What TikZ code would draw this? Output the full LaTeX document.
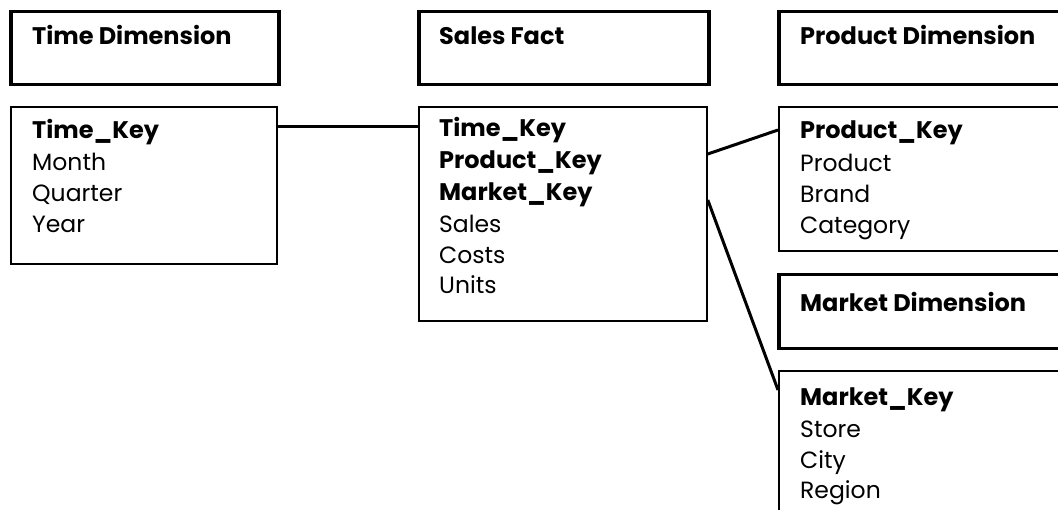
\documentclass[tikz,border=0pt]{standalone}
\usepackage{fontspec}
\setmainfont{Poppins}
\begin{document}
\begin{tikzpicture}[x=1pt,y=-1pt,
  hdr/.style={draw,line width=3.5pt,rectangle,anchor=north west,inner sep=0pt},
  attr/.style={draw,line width=1.8pt,rectangle,anchor=north west,inner sep=0pt},
  ttl/.style={anchor=base west,inner sep=0pt,font=\fontsize{24}{28}\selectfont\bfseries},
  key/.style={anchor=base west,inner sep=0pt,font=\fontsize{24}{28}\selectfont\bfseries},
  fld/.style={anchor=base west,inner sep=0pt,font=\fontsize{23.5}{28}\selectfont},
  link/.style={line width=3pt}]
\useasboundingbox (0,0) rectangle (1058,510);
\clip (0,0) rectangle (1058,510);

% Time dimension
\node[hdr,minimum width=268pt,minimum height=73pt] (timeH) at (9,10) {};
\node[ttl] (timeT) at (32,45) {Time Dimension};
\node[attr,minimum width=266pt,minimum height=157pt] (timeA) at (10,106) {};
\node[key] (t1) at (32,139) {Time\_Key};
\node[fld] (t2) at (32,171) {Month};
\node[fld] (t3) at (32,202) {Quarter};
\node[fld] (t4) at (32,233) {Year};

% Sales fact
\node[hdr,minimum width=290pt,minimum height=73pt] (salesH) at (417,10) {};
\node[ttl] (salesT) at (439,45) {Sales Fact};
\node[attr,minimum width=288pt,minimum height=214pt] (salesA) at (418,106) {};
\node[key] (s1) at (439,137) {Time\_Key};
\node[key] (s2) at (439,169) {Product\_Key};
\node[key] (s3) at (439,201) {Market\_Key};
\node[fld] (s4) at (439,233) {Sales};
\node[fld] (s5) at (439,264) {Costs};
\node[fld] (s6) at (439,294) {Units};

% Product dimension
\node[hdr,minimum width=300pt,minimum height=73pt] (prodH) at (777,10) {};
\node[ttl] (prodT) at (800,45) {Product Dimension};
\node[attr,minimum width=300pt,minimum height=144pt] (prodA) at (778,106) {};
\node[key] (p1) at (800,139) {Product\_Key};
\node[fld] (p2) at (800,172) {Product};
\node[fld] (p3) at (800,203) {Brand};
\node[fld] (p4) at (800,234) {Category};

% Market dimension
\node[hdr,minimum width=300pt,minimum height=74pt] (markH) at (777,273) {};
\node[ttl] (markT) at (800,312) {Market Dimension};
\node[attr,minimum width=300pt,minimum height=160pt] (markA) at (778,370) {};
\node[key] (m1) at (800,406) {Market\_Key};
\node[fld] (m2) at (800,438) {Store};
\node[fld] (m3) at (800,469) {City};
\node[fld] (m4) at (800,498) {Region};

% Key links
\draw[link] ([yshift=-21pt]timeA.north east) -- ([yshift=-21pt]salesA.north west);
\draw[link] ([yshift=-48pt]salesA.north east) -- ([yshift=-24pt]prodA.north west);
\draw[link] ([yshift=-94pt]salesA.north east) -- ([yshift=-20pt]markA.north west);
\end{tikzpicture}
\end{document}
